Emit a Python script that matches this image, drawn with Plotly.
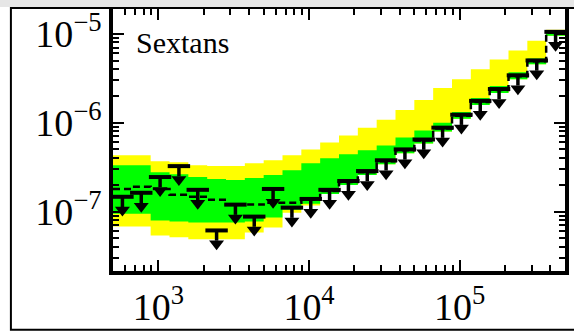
import numpy as np
import plotly.graph_objects as go

# ---------------- data ----------------
mass_edges = [500, 667, 889, 1186, 1581, 2109, 2812, 3750, 5000, 6668, 8891,
              11857, 15811, 21085, 28117, 37495, 50000, 66676, 88914, 118569,
              158114, 210848, 281171, 374947, 500000]

observed = [1.47e-7, 1.63e-7, 2.45e-7, 3.25e-7, 1.76e-7, 6.15e-8, 1.20e-7, 8.80e-8,
            1.80e-7, 1.11e-7, 1.39e-7, 1.76e-7, 2.21e-7, 2.86e-7, 3.78e-7, 5.01e-7,
            6.47e-7, 8.80e-7, 1.23e-6, 1.76e-6, 2.39e-6, 3.41e-6, 5.01e-6, 1.05e-5]

median = [1.80e-7, 1.90e-7, 1.80e-7, 1.55e-7, 1.47e-7, 1.36e-7, 1.20e-7, 1.20e-7,
          1.26e-7, 1.26e-7, 1.36e-7, 1.71e-7, 2.15e-7, 2.78e-7, 3.69e-7, 4.89e-7,
          6.31e-7, 8.58e-7, 1.20e-6, 1.71e-6, 2.33e-6, 3.33e-6, 4.89e-6, 1.03e-5]

one_sigma_lo = [9.50e-8, 9.50e-8, 7.94e-8, 7.74e-8, 7.55e-8, 7.55e-8, 7.55e-8, 7.74e-8,
                8.58e-8, 1.05e-7, 1.23e-7, 1.58e-7, 2.00e-7, 2.58e-7, 3.41e-7, 4.53e-7,
                5.85e-7, 7.94e-7, 1.11e-6, 1.58e-6, 2.15e-6, 3.08e-6, 4.53e-6, 9.50e-6]

one_sigma_hi = [3.33e-7, 3.33e-7, 2.78e-7, 2.64e-7, 2.45e-7, 2.33e-7, 2.27e-7, 2.39e-7,
                2.58e-7, 2.93e-7, 3.50e-7, 3.98e-7, 4.41e-7, 4.89e-7, 5.55e-7, 6.81e-7,
                8.15e-7, 1.00e-6, 1.32e-6, 1.90e-6, 2.58e-6, 3.69e-6, 5.27e-6, 1.08e-5]

two_sigma_lo = [6.81e-8, 6.81e-8, 5.41e-8, 5.14e-8, 4.89e-8, 4.89e-8, 4.89e-8, 5.85e-8,
                6.64e-8, 9.75e-8, 1.17e-7, 1.58e-7, 2.00e-7, 2.58e-7, 3.41e-7, 4.53e-7,
                5.85e-7, 7.94e-7, 1.11e-6, 1.58e-6, 2.15e-6, 3.08e-6, 4.53e-6, 9.50e-6]

two_sigma_hi = [4.30e-7, 4.30e-7, 3.69e-7, 3.59e-7, 3.33e-7, 3.25e-7, 3.25e-7, 3.50e-7,
                3.78e-7, 4.30e-7, 5.01e-7, 5.99e-7, 7.17e-7, 8.80e-7, 1.08e-6, 1.39e-6,
                1.80e-6, 2.45e-6, 3.08e-6, 3.98e-6, 5.14e-6, 6.47e-6, 8.36e-6, 1.11e-5]

x_tick_vals = [1e3, 1e4, 1e5]
x_tick_text = ["10<sup>3</sup>", "10<sup>4</sup>", "10<sup>5</sup>"]
y_tick_vals = [1e-7, 1e-6, 1e-5]
y_tick_text = ["10<sup>−7</sup>", "10<sup>−6</sup>", "10<sup>−5</sup>"]
panel_label = "Sextans"

# ---------------- figure ----------------
W, H = 574, 333
L, R, T, B = 113, 5, 7, 61
edges = np.array(mass_edges, dtype=float)
centers = np.sqrt(edges[:-1] * edges[1:])


def steps(v):
    return list(v) + [v[-1]]


fig = go.Figure()
YEL = "#ffff00"
GRN = "#00ff00"

fig.add_trace(go.Scatter(x=edges, y=steps(two_sigma_lo), mode="lines", line=dict(width=0, shape="hv"),
                         showlegend=False, hoverinfo="skip"))
fig.add_trace(go.Scatter(x=edges, y=steps(two_sigma_hi), mode="lines", line=dict(width=0, shape="hv"),
                         fill="tonexty", fillcolor=YEL, showlegend=False, hoverinfo="skip"))
fig.add_trace(go.Scatter(x=edges, y=steps(one_sigma_lo), mode="lines", line=dict(width=0, shape="hv"),
                         showlegend=False, hoverinfo="skip"))
fig.add_trace(go.Scatter(x=edges, y=steps(one_sigma_hi), mode="lines", line=dict(width=0, shape="hv"),
                         fill="tonexty", fillcolor=GRN, showlegend=False, hoverinfo="skip"))
fig.add_trace(go.Scatter(x=edges, y=steps(median), mode="lines",
                         line=dict(width=2.5, shape="hv", color="black", dash="7px,4px"),
                         showlegend=False, hoverinfo="skip"))

obs = np.array(observed)
stem = obs - obs * 10 ** (-0.115)
fig.add_trace(go.Scatter(
    x=centers, y=obs, mode="markers",
    marker=dict(symbol="line-ew", size=16, color="black", line=dict(width=4, color="black")),
    error_y=dict(type="data", symmetric=False, array=[0] * len(obs), arrayminus=stem,
                 color="black", thickness=3.5, width=0),
    showlegend=False, hoverinfo="skip"))
fig.add_trace(go.Scatter(
    x=centers, y=obs * 10 ** (-0.15), mode="markers",
    marker=dict(symbol="triangle-down", size=13, color="black", line=dict(width=0)),
    showlegend=False, hoverinfo="skip"))

serif = "Liberation Serif, Times New Roman, serif"

x_minor = [m * 10 ** e for e in range(2, 6) for m in range(2, 10)]
y_minor = [m * 10 ** e for e in range(-8, -4) for m in range(2, 10)]

axis_common = dict(type="log", showline=True, linewidth=3.5, linecolor="black", mirror="ticks",
                   ticks="inside", ticklen=11, tickwidth=2, tickcolor="black", showgrid=False,
                   zeroline=False, tickmode="array",
                   tickfont=dict(family=serif, size=38, color="black"))

fig.update_xaxes(range=[np.log10(edges[0]), np.log10(edges[-1])],
                 tickvals=x_tick_vals, ticktext=x_tick_text,
                 minor=dict(ticks="inside", ticklen=6, tickwidth=1.5, tickcolor="black",
                            tickmode="array", tickvals=x_minor, showgrid=False),
                 **axis_common)
fig.update_yaxes(range=[-7.667, -4.722],
                 tickvals=y_tick_vals, ticktext=y_tick_text,
                 minor=dict(ticks="inside", ticklen=6, tickwidth=1.5, tickcolor="black",
                            tickmode="array", tickvals=y_minor, showgrid=False),
                 **axis_common)

pw = W - L - R
ph = H - T - B


def px(x):
    return (x - L) / pw


def py(y):
    return (H - B - y) / ph


fig.add_annotation(text=panel_label, xref="paper", yref="paper", x=px(134), y=py(41),
                   xanchor="left", yanchor="middle", showarrow=False,
                   font=dict(family=serif, size=30, color="black"))

# outer frame of the picture
fig.add_shape(type="rect", xref="paper", yref="paper", x0=px(10), x1=px(590), y0=py(331.5), y1=py(6),
              line=dict(color="black", width=2), fillcolor="rgba(0,0,0,0)", layer="above")
fig.add_shape(type="rect", xref="paper", yref="paper", x0=px(-5), x1=px(590), y0=py(5), y1=py(-5),
              line=dict(width=0), fillcolor="#e6e6e6", layer="above")

fig.update_layout(width=W, height=H, margin=dict(l=L, r=R, t=T, b=B),
                  paper_bgcolor="white", plot_bgcolor="white", showlegend=False)

fig.write_html("out.html")
